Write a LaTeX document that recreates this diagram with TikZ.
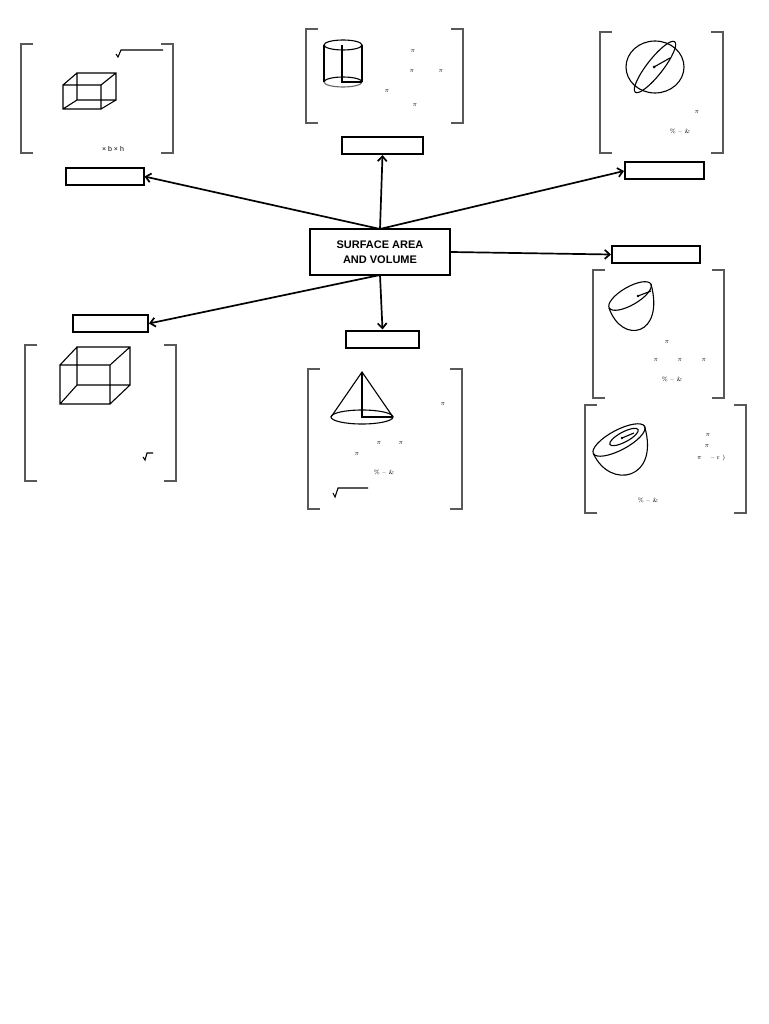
\documentclass[tikz,border=0pt]{standalone}
\usepackage{fontspec}
\setsansfont{Liberation Sans}
\usetikzlibrary{arrows.meta}
\begin{document}
\begin{tikzpicture}[x=1pt,y=-1pt,
  lbl/.style={draw,line width=2pt,minimum width=#1,minimum height=17pt,inner sep=0pt},
  lbl/.default=78pt,
  conn/.style={line width=1.7pt,-{Straight Barb[length=5pt,width=9pt]}},
  brk/.style={draw=black!65,line width=1.2pt},
  fig/.style={line width=1.1pt},
  sm/.style={font=\fontsize{6}{7}\selectfont,inner sep=0pt}]
\useasboundingbox (0,0) rectangle (768,1024);
\newcommand\mybrk[4]{\draw[brk] (#1+12,#2)--(#1,#2)--(#1,#4)--(#1+12,#4);
  \draw[brk] (#3-12,#2)--(#3,#2)--(#3,#4)--(#3-12,#4);}
% brackets
\mybrk{21}{44}{173}{153}
\mybrk{306}{29}{463}{123}
\mybrk{600}{32}{723}{153}
\mybrk{593}{270}{724}{398}
\mybrk{585}{405}{746}{513}
\mybrk{25}{345}{176}{481}
\mybrk{308}{369}{462}{509}
% center
\node[draw,line width=2pt,minimum width=140pt,minimum height=46pt,align=center,
  font=\sffamily\bfseries\fontsize{11}{15}\selectfont] (c) at (380,252) {SURFACE AREA\\AND VOLUME};
\node[lbl] (l1) at (104.5,176.5) {};
\node[lbl=81pt] (l2) at (382.5,145.5) {};
\node[lbl=79pt] (l3) at (664.5,171) {};
\node[lbl=88pt] (l4) at (656,254.5) {};
\node[lbl=75pt] (l5) at (110.5,323.5) {};
\node[lbl=73pt] (l6) at (382.5,339) {};
\coordinate (ct) at (380,229);
\coordinate (cb) at (380,275);
\draw[conn] (ct) -- (l1.east);
\draw[conn] (ct) -- (l2.south);
\draw[conn] (ct) -- (l3.west);
\draw[conn] (c.east) -- (l4.west);
\draw[conn] (cb) -- (l5.east);
\draw[conn] (cb) -- (l6.north);
% cuboid 1
\draw[fig] (63,85) rectangle (101,109) (77,73) rectangle (116,100)
  (63,85)--(77,73) (101,85)--(116,73) (63,109)--(77,100) (101,109)--(116,100);
\node[sm,font=\sffamily\fontsize{7}{8}\selectfont] at (113,149) {× b × h};
\draw[fig] (116,54)--(118,57)--(121,50)--(163,50);
% cylinder
\draw[fig] (343,45) ellipse (19 and 5);
\draw[fig] (324,45)--(324,82) (362,45)--(362,82);
\draw[fig] (324,82) arc (180:360:19 and 5);
\draw[fig,draw=black!60] (324,82) arc (180:0:19 and 5);
\draw[fig] (342,45)--(342,82)--(362,82);
\foreach \p in {(413,51),(412,71),(441,71),(387,91),(415,105)} \node[sm] at \p {$\pi$};
% sphere
\draw[fig] (655,67) ellipse (29 and 26);
\draw[fig,rotate around={52:(655,67)}] (655,67) ellipse (32 and 8);
\fill (654,67) circle (1.5);
\draw[fig] (654,67)--(670,58);
\node[sm] at (697,112) {$\pi$};
\node[sm] at (680,131) {\% -- \&};
% hemisphere 1
\draw[fig,rotate around={30:(630,296)}] (630,296) ellipse (24 and 9);
\draw[fig] (609,308) .. controls (622,345) and (665,336) .. (651,284);
\fill (638,296) circle (1.4);
\draw[fig] (638,296)--(651,291);
\node[sm] at (667,342) {$\pi$};
\foreach \p in {(656,360),(680,360),(704,360)} \node[sm] at \p {$\pi$};
\node[sm] at (672,379) {\% -- \&};
% hemisphere 2
\draw[fig,rotate around={28:(619,440)}] (619,440) ellipse (29 and 10);
\draw[fig,rotate around={28:(624,437)}] (624,437) ellipse (16 and 5);
\draw[fig] (593.4,453.6) .. controls (610,490) and (660,480) .. (644.6,426.4);
\fill (622,438) circle (1.4);
\draw[fig] (622,438)--(634,433);
\node[sm] at (708,435) {$\pi$};
\node[sm] at (707,446) {$\pi$};
\node[sm,anchor=west] at (697,458) {$\pi$\hspace{9pt}-- r )};
\node[sm] at (648,500) {\% -- \&};
% cuboid 2
\draw[fig] (60,365) rectangle (110,404) (77,347) rectangle (130,385)
  (60,365)--(77,347) (110,365)--(130,347) (60,404)--(77,385) (110,404)--(130,385);
\draw[fig] (143,457)--(145,460)--(147,453)--(153,453);
% cone
\draw[fig] (362,417) ellipse (31 and 7);
\draw[fig] (331,417)--(362,372)--(393,417);
\draw[fig] (362,372)--(362,417)--(393,417);
\node[sm] at (443,404) {$\pi$};
\foreach \p in {(379,443),(401,443),(357,454)} \node[sm] at \p {$\pi$};
\node[sm] at (384,472) {\% -- \&};
\draw[fig] (333,493)--(335,497)--(338,488)--(368,488);
\end{tikzpicture}
\end{document}
